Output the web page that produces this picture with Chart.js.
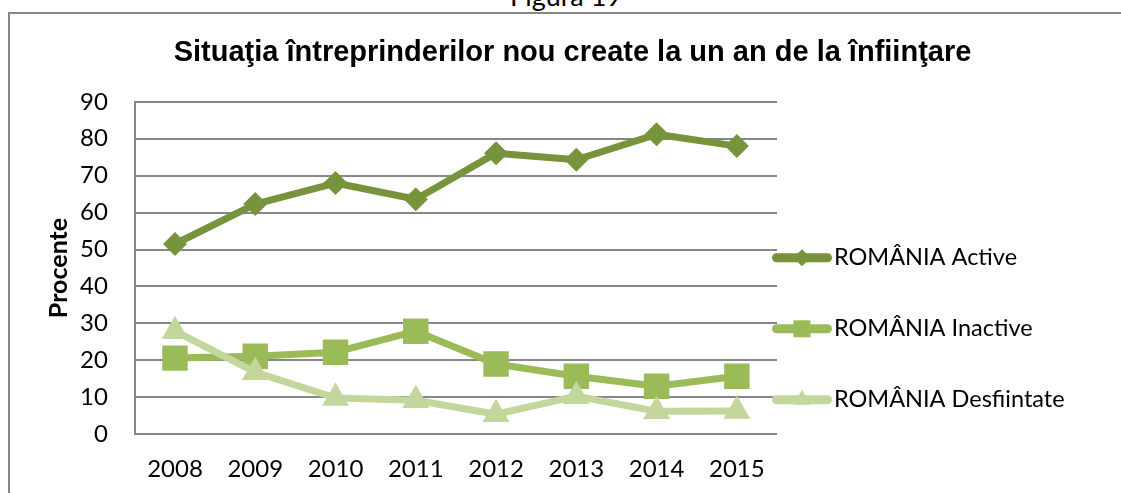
<!DOCTYPE html>
<html>
<head>
<meta charset="utf-8">
<script src="https://cdn.jsdelivr.net/npm/chart.js@4.4.0/dist/chart.umd.min.js"></script>
<style>
  html, body { margin: 0; padding: 0; background: #fff; overflow: hidden; width: 1121px; height: 493px; }
  #frame { position: absolute; left: 8px; top: 12px; width: 1200px; height: 600px;
           border-left: 2px solid #878787; border-top: 2px solid #878787; }
  #fig { position: absolute; left: 0; top: -18px; width: 1132px; text-align: center;
         font: 27px Lato, sans-serif; line-height: 1; color: #000; }
  #chart { position: absolute; left: 0; top: 0; }
</style>
</head>
<body>
<div id="fig">Figura 19</div>
<div id="frame"></div>
<canvas id="chart" width="1145" height="493"></canvas>
<script>
const years = ['2008', '2009', '2010', '2011', '2012', '2013', '2014', '2015'];
const active = [51.5, 62.3, 68, 63.6, 76.1, 74.3, 81.2, 78];
const inactive = [20.6, 21.1, 22.2, 27.9, 19, 15.7, 13, 15.7];
const closed = [27.9, 16.8, 9.8, 9.2, 5.4, 10.3, 6.2, 6.3];
const seriesNames = ['ROMÂNIA Active', 'ROMÂNIA Inactive', 'ROMÂNIA Desfiintate'];
const yTicks = [0, 10, 20, 30, 40, 50, 60, 70, 80, 90];

const colors = ['#77933C', '#9BBB59', '#C3D69B'];
const markerStyles = ['rectRot', 'rect', 'triangle'];
const markerSizes = [12, 18, 15.5];
const legendMarkerSizes = [8.5, 12, 10];
const calibriLike = 'Lato, "Open Sans", sans-serif';
const gridGray = '#878787';

// legend sits in its own layout box on the right, so the title stays centred on the canvas
const legendWidth = 368;
const legendFirstRow = 156;
const legendRowGap = 71;

function drawLegend(chart, box) {
  const ctx = chart.ctx;
  ctx.save();
  ctx.font = '23.5px ' + calibriLike;
  ctx.textBaseline = 'middle';
  chart.data.datasets.forEach((ds, i) => {
    const y = box.top + legendFirstRow + i * legendRowGap;
    const x0 = box.left - 5;
    const x1 = box.left + 55;
    ctx.strokeStyle = ds.borderColor;
    ctx.lineWidth = 9;
    ctx.lineCap = 'round';
    ctx.beginPath();
    ctx.moveTo(x0 + 4.5, y);
    ctx.lineTo(x1 - 4.5, y);
    ctx.stroke();
    ctx.fillStyle = ds.borderColor;
    Chart.helpers.drawPoint(ctx, {
      pointStyle: ds.pointStyle, radius: legendMarkerSizes[i], rotation: 0, borderWidth: 0
    }, (x0 + x1) / 2, y);
    ctx.fillStyle = '#000';
    ctx.textAlign = 'left';
    ctx.fillText(ds.label, x1 + 2, y);
  });
  ctx.restore();
}

const sideLegend = {
  id: 'sideLegend',
  beforeInit(chart) {
    const box = {
      position: 'right', weight: 0, fullSize: false, options: {},
      left: 0, top: 0, right: 0, bottom: 0, width: 0, height: 0,
      isHorizontal() { return false; },
      update(maxWidth, maxHeight) { this.width = legendWidth; this.height = maxHeight; },
      draw() { drawLegend(chart, this); }
    };
    Chart.layouts.addBox(chart, box);
  }
};

const values = [active, inactive, closed];
const datasets = values.map((v, i) => ({
  label: seriesNames[i],
  data: v,
  borderColor: colors[i],
  backgroundColor: colors[i],
  borderWidth: 7,
  borderJoinStyle: 'round',
  borderCapStyle: 'round',
  pointStyle: markerStyles[i],
  pointRadius: markerSizes[i],
  pointHoverRadius: markerSizes[i],
  pointBorderWidth: 0,
  pointBackgroundColor: colors[i],
  tension: 0,
  order: 3 - i
}));

// Chart.js reserves tick padding twice when sizing an axis, hence the negative paddings below
new Chart(document.getElementById('chart'), {
  type: 'line',
  data: { labels: years, datasets: datasets },
  plugins: [sideLegend],
  options: {
    responsive: false,
    animation: false,
    layout: { padding: { top: 0, left: 0, right: 0, bottom: -12 } },
    plugins: {
      legend: { display: false },
      tooltip: { enabled: false },
      title: {
        display: true,
        text: 'Situaţia întreprinderilor nou create la un an de la înfiinţare',
        color: '#000',
        font: { family: '"Liberation Sans", Arial, sans-serif', size: 29, weight: 'bold' },
        padding: { top: 36, bottom: 31 }
      }
    },
    scales: {
      x: {
        offset: true,
        grid: { display: false, drawTicks: false },
        border: { display: false },
        ticks: { color: '#000', font: { family: calibriLike, size: 24 }, padding: 21, maxRotation: 0 }
      },
      y: {
        min: 0,
        max: 90,
        afterBuildTicks(scale) { scale.ticks = yTicks.map(v => ({ value: v })); },
        grid: { color: gridGray, lineWidth: 2, drawTicks: false },
        border: { display: true, color: gridGray, width: 2 },
        ticks: { color: '#000', font: { family: calibriLike, size: 24 }, padding: 27 },
        title: {
          display: true,
          text: 'Procente',
          color: '#000',
          font: { family: calibriLike, size: 25, weight: 'bold' },
          padding: { top: 44, bottom: -21 }
        }
      }
    }
  }
});
</script>
</body>
</html>
